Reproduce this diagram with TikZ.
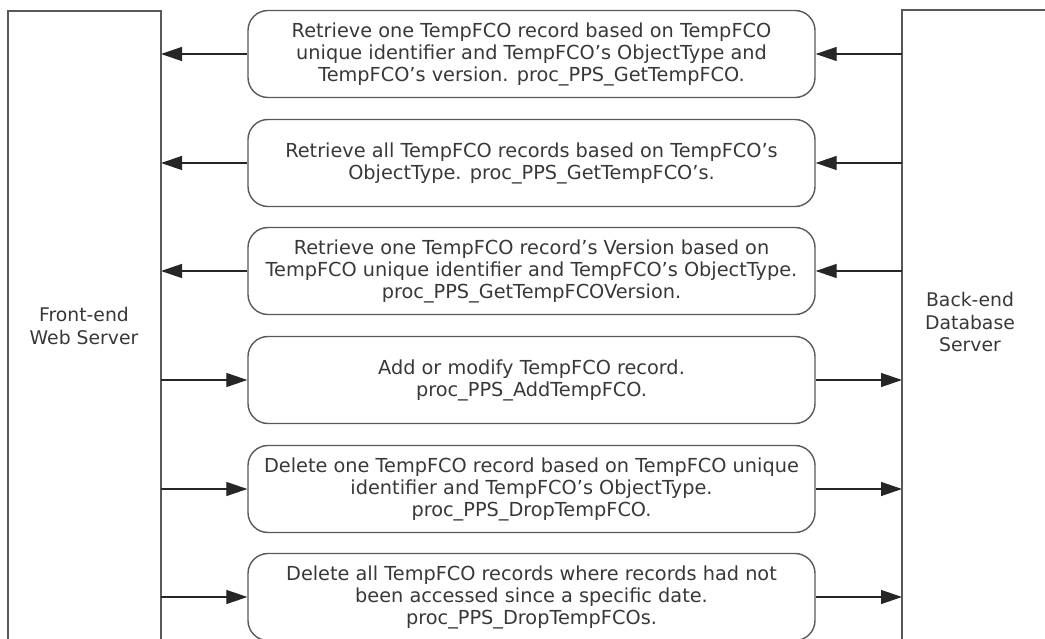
\documentclass[tikz,border=0pt]{standalone}
\usepackage{fontspec}
\setmainfont{DejaVu Sans}
\usetikzlibrary{arrows.meta}
\definecolor{linegray}{gray}{0.35}
\definecolor{textgray}{gray}{0.22}
\tikzset{
  callbox/.style={draw=linegray, line width=1.4pt, rounded corners=20pt, minimum width=567pt,
    minimum height=87pt, align=center, text=textgray, inner sep=0pt,
    font=\fontsize{19.3}{22}\selectfont},
  serverlabel/.style={align=center, text=textgray, font=\fontsize{18.8}{22.5}\selectfont},
  msg/.style={draw=black!85, line width=1.3pt, -{Triangle[length=21pt,width=14pt]}}
}
\begin{document}
\begin{tikzpicture}[x=1pt,y=-1pt]
        \useasboundingbox (0,0) rectangle (1045,639);
        \clip (0,0) rectangle (1045,639);

        % Server boxes, open at the bottom
        \draw[linegray, line width=1.5pt] (8,660) -- (8,11) -- (161,11) -- (161,660);
        \draw[linegray, line width=1.5pt] (902,660) -- (902,10) -- (1060,10);
        \coordinate (feR) at (161,0);
        \coordinate (beL) at (902,0);
        \node[serverlabel] (fe) at (84,326) {Front-end\\Web Server};
        \node[serverlabel] (be) at (970,322) {Back-end\\Database\\Server};

        % Stored procedure calls
        \node[callbox] (q1) at (531.5,54) {Retrieve one TempFCO record based on TempFCO\\unique identifier and TempFCO’s ObjectType and\\TempFCO’s version. proc\_PPS\_GetTempFCO.};
        \node[callbox] (q2) at (531.5,163) {Retrieve all TempFCO records based on TempFCO’s\\ObjectType. proc\_PPS\_GetTempFCO’s.};
        \node[callbox] (q3) at (531.5,271) {Retrieve one TempFCO record’s Version based on\\TempFCO unique identifier and TempFCO’s ObjectType.\\proc\_PPS\_GetTempFCOVersion.};
        \node[callbox] (q4) at (531.5,380) {Add or modify TempFCO record.\\proc\_PPS\_AddTempFCO.};
        \node[callbox] (q5) at (531.5,489) {Delete one TempFCO record based on TempFCO unique\\identifier and TempFCO’s ObjectType.\\proc\_PPS\_DropTempFCO.};
        \node[callbox] (q6) at (531.5,597) {Delete all TempFCO records where records had not\\been accessed since a specific date.\\proc\_PPS\_DropTempFCOs.};

        % Results back to the front end
        \foreach \q in {q1,q2,q3} {
          \draw[msg] (\q.east -| beL) -- (\q.east);
          \draw[msg] (\q.west) -- (\q.west -| feR);
        }
        % Requests to the back end
        \foreach \q in {q4,q5,q6} {
          \draw[msg] (\q.west -| feR) -- (\q.west);
          \draw[msg] (\q.east) -- (\q.east -| beL);
        }
      \end{tikzpicture}
\end{document}
